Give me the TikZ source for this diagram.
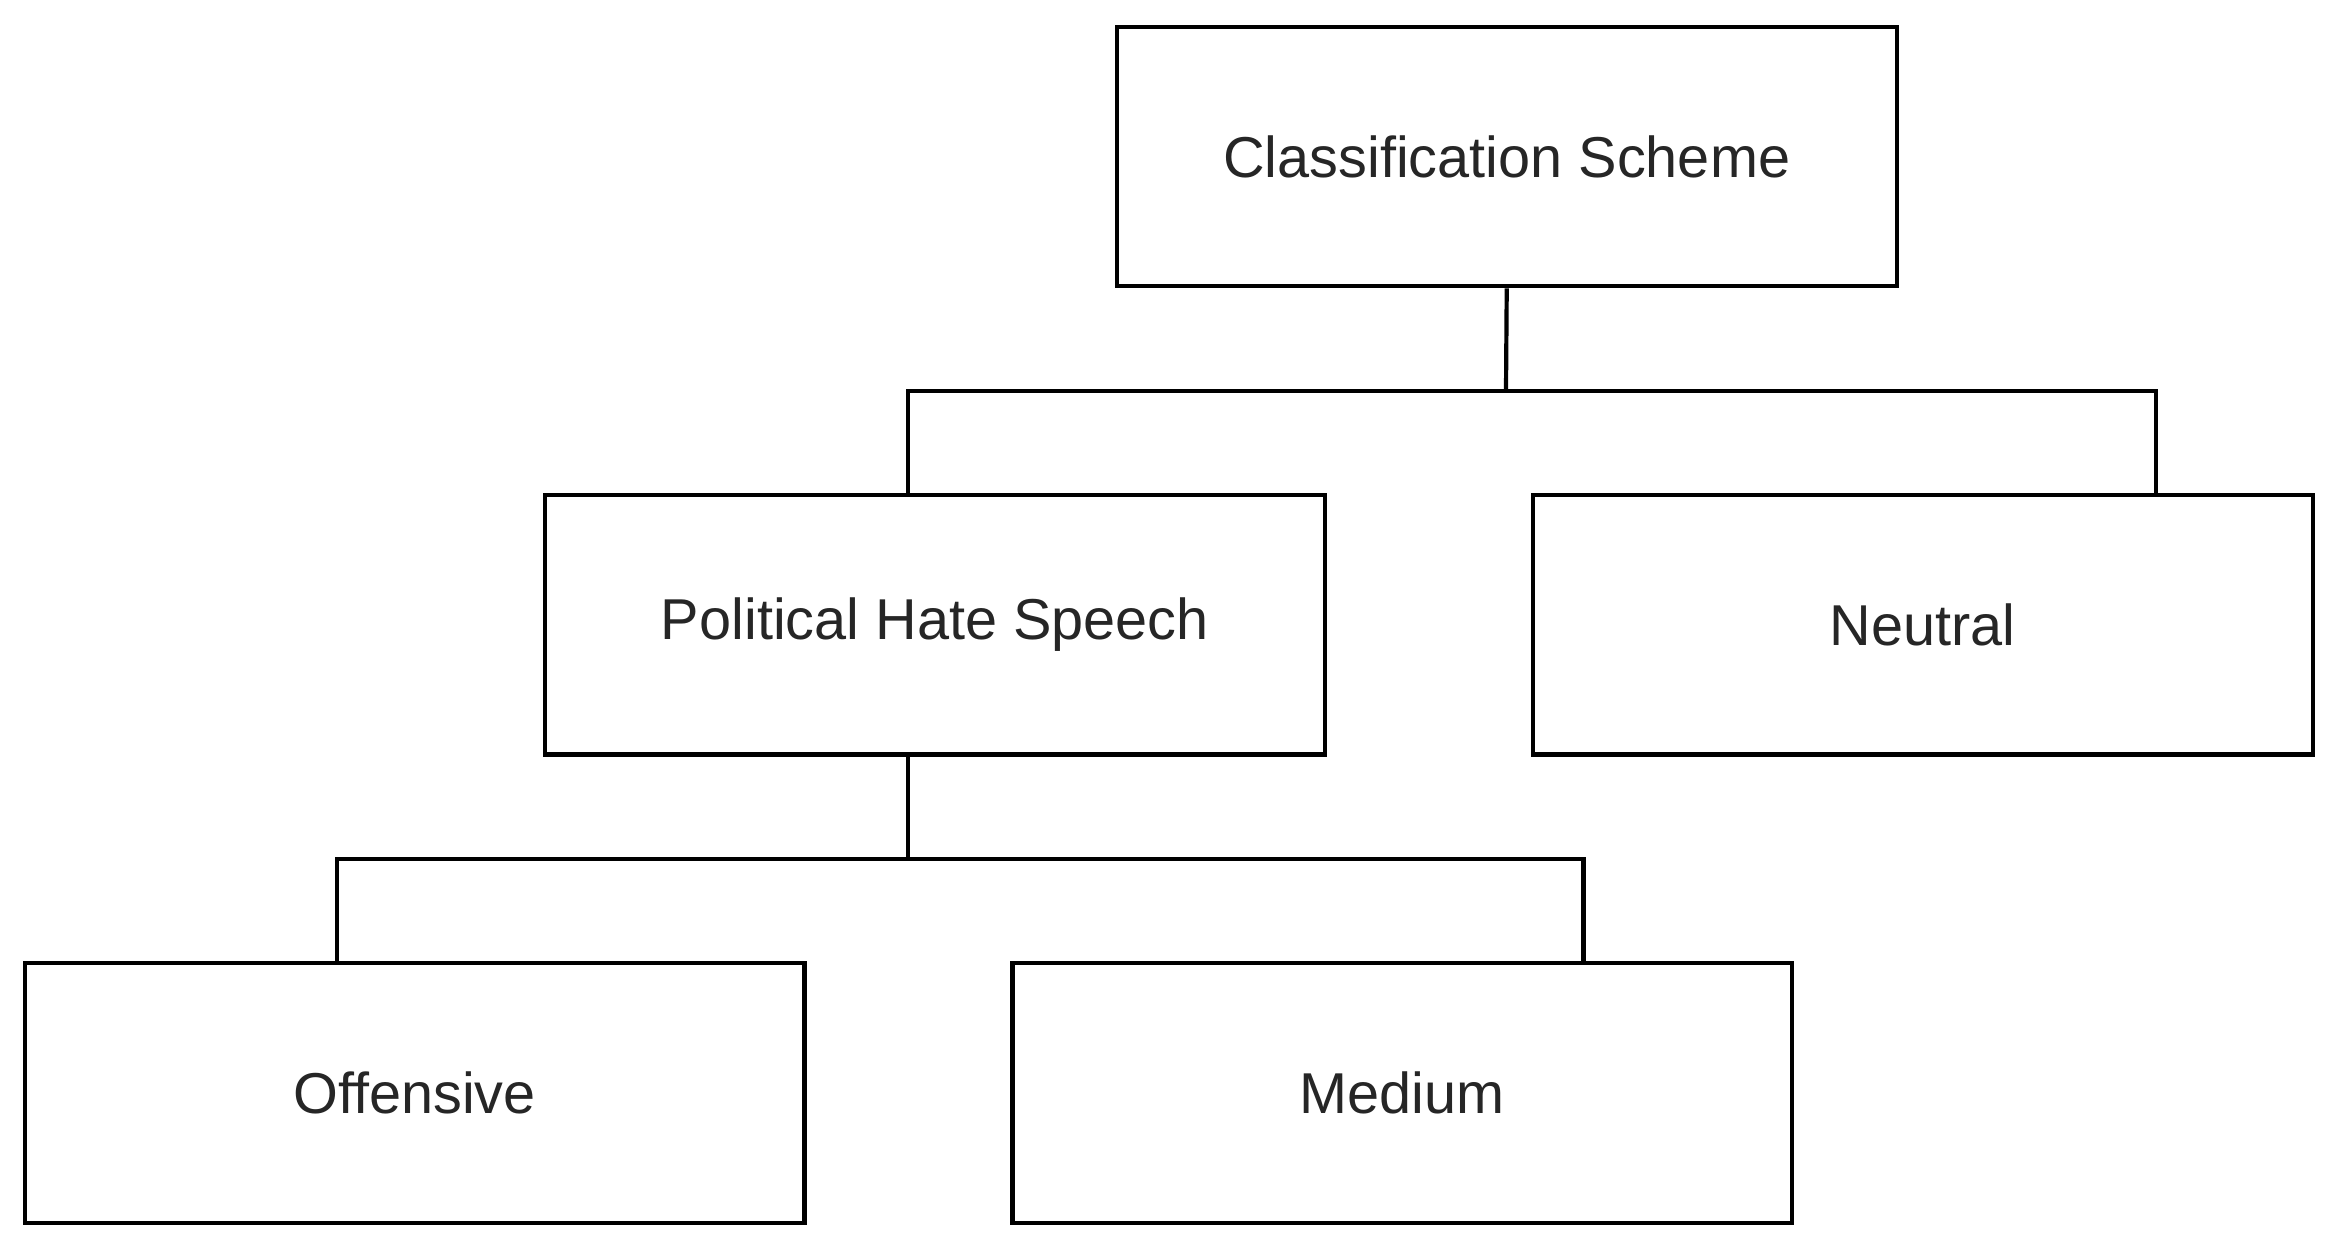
\documentclass[tikz,border=0pt]{standalone}
\usepackage{fontspec}
\setmainfont{Liberation Sans}
\begin{document}
\begin{tikzpicture}[x=0.02cm,y=-0.02cm,
  box/.style={draw=black,line width=1.6pt,minimum width=523*0.02cm,minimum height=174*0.02cm,inner sep=0pt,font=\fontsize{22}{26}\selectfont,text=black!85},
  conn/.style={line width=1.6pt}]
\useasboundingbox (0,0) rectangle (1568,845);
\node[box] (cs) at (1010.5,105) {Classification Scheme};
\node[box] (phs) at (627,419) {Political Hate Speech};
\node[box] (neu) at (1289.5,419) {Neutral};
\node[box] (off) at (278,733) {Offensive};
\node[box] (med) at (940.5,733) {Medium};
\coordinate (j1) at (1010,262);
\coordinate (j2) at (609,576);
\draw[conn] (cs.south) -- (j1);
\draw[conn] (phs.north -| 609,0) |- (j1) -| (neu.north -| 1446,0);
\draw[conn] (phs.south -| j2) -- (j2);
\draw[conn] (off.north -| 226,0) |- (j2) -| (med.north -| 1062,0);
\end{tikzpicture}
\end{document}
